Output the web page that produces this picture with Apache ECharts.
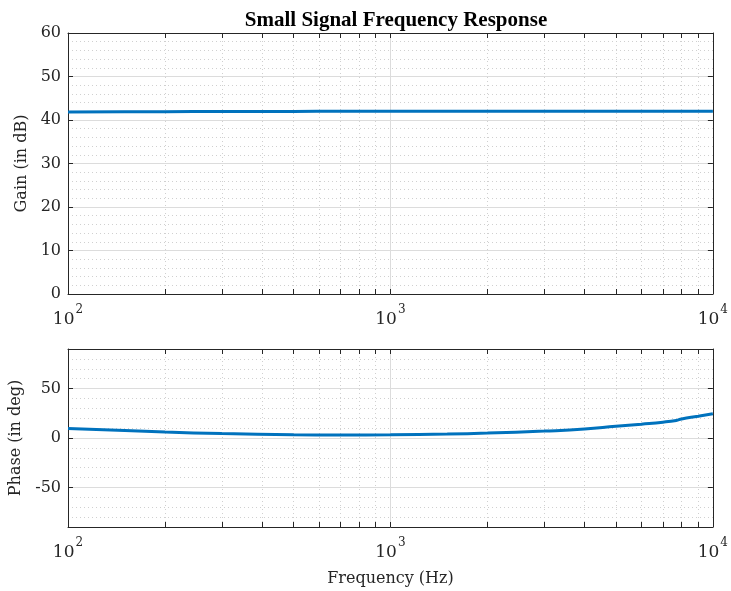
<!DOCTYPE html>
<html>
<head>
<meta charset="utf-8">
<script src="https://cdn.jsdelivr.net/npm/echarts@6/dist/echarts.min.js"></script>
<style>
  html, body { margin: 0; padding: 0; background: #fff; }
  #chart { width: 731px; height: 591px; }
</style>
</head>
<body>
<div id="chart"></div>
<script>
  // frequency points (Hz)
  var freqs = [100, 150, 200, 300, 500, 700, 1000, 1500, 2000, 3000, 4000, 5000, 6000, 7000, 7700, 8000, 9000, 10000];
  var gainDb = [41.85, 41.9, 41.92, 41.95, 41.98, 42.0, 42.0, 42.0, 42.0, 42.0, 42.0, 42.0, 42.0, 42.0, 42.0, 42.0, 42.0, 42.0];
  var phaseDeg = [9.5, 7.5, 6.0, 4.5, 3.3, 3.0, 3.2, 4.0, 5.0, 7.0, 9.0, 11.8, 14.0, 16.0, 17.8, 19.3, 22.0, 24.5];

  var decadeTicks = [100, 1000, 10000];
  var minorFreqTicks = [200, 300, 400, 500, 600, 700, 800, 900, 2000, 3000, 4000, 5000, 6000, 7000, 8000, 9000];
  var phaseTicks = [-50, 0, 50];
  var phaseMinorTicks = [-90, -80, -70, -60, -40, -30, -20, -10, 10, 20, 30, 40, 60, 70, 80, 90];

  var font = 'DejaVu Serif';
  var ink = '#262626';
  var allFreqTicks = decadeTicks.concat(minorFreqTicks);

  function expLabel(v) {
    return '{b|10}{s|' + Math.round(Math.log10(v)) + '}';
  }

  function xAxes(grid) {
    var base = { gridIndex: grid, type: 'log', logBase: 10, min: 100, max: 10000 };
    var frame = { show: true, onZero: false, lineStyle: { color: ink, width: 1 } };
    return [
      // bottom: labels + ticks
      Object.assign({}, base, {
        position: 'bottom',
        name: grid === 1 ? 'Frequency (Hz)' : '',
        nameLocation: 'middle', nameGap: 44,
        nameTextStyle: { fontFamily: font, fontSize: 16, color: ink },
        axisLine: frame,
        axisTick: { show: true, inside: true, length: 5, customValues: allFreqTicks, lineStyle: { color: ink } },
        axisLabel: {
          customValues: decadeTicks, margin: 10, formatter: expLabel,
          rich: {
            b: { fontFamily: font, fontSize: 17, color: ink, verticalAlign: 'bottom', lineHeight: 24 },
            s: { fontFamily: font, fontSize: 12, color: ink, verticalAlign: 'top', lineHeight: 24, padding: [0, 0, 0, 1] }
          }
        },
        splitLine: { show: false }
      }),
      // top frame
      Object.assign({}, base, {
        position: 'top',
        axisLine: frame,
        axisTick: { show: true, inside: true, length: 5, customValues: allFreqTicks, lineStyle: { color: ink } },
        axisLabel: { show: false },
        splitLine: { show: false }
      }),
      // major grid
      Object.assign({}, base, {
        axisLine: { show: false },
        axisTick: { show: false, customValues: decadeTicks },
        axisLabel: { show: false },
        splitLine: { show: true, lineStyle: { color: '#dcdcdc', width: 1 } }
      }),
      // minor grid
      Object.assign({}, base, {
        axisLine: { show: false },
        axisTick: { show: false, customValues: minorFreqTicks },
        axisLabel: { show: false },
        splitLine: { show: true, lineStyle: { color: '#d0d0d0', width: 1, type: [1, 3] } }
      })
    ];
  }

  var labelStyle = { fontFamily: font, fontSize: 16, color: ink, margin: 7 };
  var nameStyle = { fontFamily: font, fontSize: 16, color: ink };
  var yFrame = { show: true, onZero: false, lineStyle: { color: ink } };

  var option = {
    animation: false,
    title: {
      text: 'Small Signal Frequency Response',
      left: 391, top: 5, textAlign: 'center',
      textStyle: { fontFamily: 'Liberation Serif', fontSize: 21, fontWeight: 'bold', color: '#000' }
    },
    grid: [
      { left: 68, right: 17, top: 33, height: 261 },
      { left: 68, right: 17, top: 349, height: 178 }
    ],
    xAxis: xAxes(0).concat(xAxes(1)),
    yAxis: [
      {
        gridIndex: 0, type: 'value', min: 0, max: 60, interval: 10, position: 'left',
        name: 'Gain (in dB)', nameLocation: 'middle', nameGap: 28, nameTextStyle: nameStyle,
        axisLine: yFrame,
        axisTick: { show: true, inside: true, length: 5, lineStyle: { color: ink } },
        axisLabel: labelStyle,
        splitLine: { show: true, lineStyle: { color: '#dcdcdc' } },
        minorTick: { show: false, splitNumber: 5 },
        minorSplitLine: { show: true, lineStyle: { color: '#d0d0d0', type: [1, 3] } }
      },
      {
        gridIndex: 0, type: 'value', min: 0, max: 60, interval: 10, position: 'right',
        axisLine: yFrame,
        axisTick: { show: true, inside: true, length: 5, lineStyle: { color: ink } },
        axisLabel: { show: false },
        splitLine: { show: false }
      },
      {
        gridIndex: 1, type: 'value', min: -90, max: 90, position: 'left',
        name: 'Phase (in deg)', nameLocation: 'middle', nameGap: 34, nameTextStyle: nameStyle,
        axisLine: yFrame,
        axisTick: { show: true, inside: true, length: 5, customValues: phaseTicks, lineStyle: { color: ink } },
        axisLabel: Object.assign({ customValues: phaseTicks }, labelStyle),
        splitLine: { show: true, lineStyle: { color: '#dcdcdc' } }
      },
      {
        gridIndex: 1, type: 'value', min: -90, max: 90, position: 'right',
        axisLine: yFrame,
        axisTick: { show: true, inside: true, length: 5, customValues: phaseTicks, lineStyle: { color: ink } },
        axisLabel: { show: false },
        splitLine: { show: false }
      },
      {
        gridIndex: 1, type: 'value', min: -90, max: 90,
        axisLine: { show: false },
        axisTick: { show: false, customValues: phaseMinorTicks },
        axisLabel: { show: false },
        splitLine: { show: true, lineStyle: { color: '#d0d0d0', type: [1, 3] } }
      }
    ],
    series: [
      {
        type: 'line', xAxisIndex: 0, yAxisIndex: 0, smooth: true, showSymbol: false,
        lineStyle: { color: '#0072BD', width: 3 },
        data: freqs.map(function (f, i) { return [f, gainDb[i]]; })
      },
      {
        type: 'line', xAxisIndex: 4, yAxisIndex: 2, smooth: true, showSymbol: false,
        lineStyle: { color: '#0072BD', width: 3 },
        data: freqs.map(function (f, i) { return [f, phaseDeg[i]]; })
      }
    ]
  };

  var chart = echarts.init(document.getElementById('chart'));
  chart.setOption(option);
</script>
</body>
</html>
